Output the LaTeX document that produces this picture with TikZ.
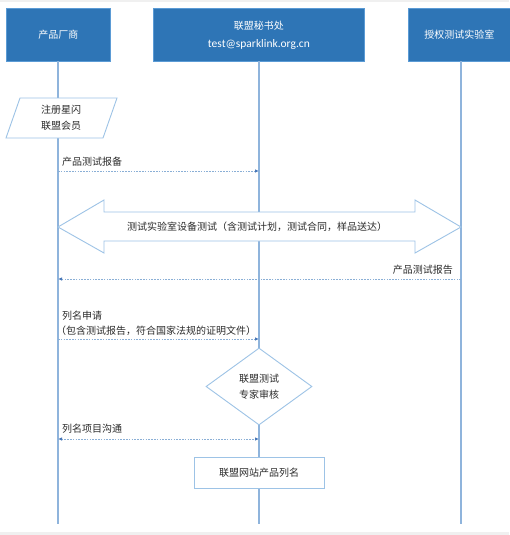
\documentclass[tikz,border=0pt]{standalone}
\usepackage{fontspec}
\setmainfont{Noto Sans CJK SC}
\newfontfamily\latinfont{Carlito}
\usetikzlibrary{shapes.geometric,arrows.meta}
\definecolor{hdrblue}{HTML}{2E75B6}
\definecolor{hdredge}{HTML}{5B9BD5}
\definecolor{lifeblue}{HTML}{8FB4DC}
\definecolor{lineblue}{HTML}{9DC3E6}
\definecolor{dotblue}{HTML}{8AAFD6}
\definecolor{arrblue}{HTML}{4A78B8}
\definecolor{txtgray}{HTML}{2B2B2B}
\definecolor{bandgray}{HTML}{F0F0F0}
\tikzset{
  hdr/.style={fill=hdrblue, draw=hdredge, line width=0.8pt, text=white, font=\fontsize{10}{14}\selectfont, align=center, inner sep=0pt, anchor=north west},
  life/.style={draw=lifeblue, line width=1.3pt},
  tipa/.tip={Latex[length=4pt,width=3.5pt,color=arrblue]},
  msg/.style={draw=dotblue, line width=0.9pt, dash pattern=on 1.6pt off 1.2pt, -tipa},
  msgtwo/.style={draw=dotblue, line width=0.9pt, dash pattern=on 1.6pt off 1.2pt, tipa-tipa},
  lbl/.style={text=txtgray, font=\fontsize{10}{14}\selectfont, inner sep=0pt},
  outline/.style={draw=lineblue, line width=0.9pt, fill=white}
}
\begin{document}
\begin{tikzpicture}[x=1pt,y=-1pt]
\useasboundingbox (0,0) rectangle (509,535);
\fill[white] (0,0) rectangle (509,535);
\fill[bandgray] (0,0) rectangle (509,2.5);
\fill[bandgray] (0,532) rectangle (509,535);

% headers
\node[hdr, minimum width=104pt, minimum height=53pt] (h1) at (6,8) {产品厂商};
\node[hdr, minimum width=211pt, minimum height=53pt] (h2) at (153,8) {联盟秘书处\\[4pt]{\latinfont\fontsize{11.5}{14}\selectfont test@sparklink.org.cn}};
\node[hdr, minimum width=102pt, minimum height=53pt] (h3) at (408,8) {授权测试实验室};

% lifelines
\coordinate (t1) at (58,61);
\coordinate (t2) at (259,61);
\coordinate (t3) at (461,61);
\coordinate (e1) at (58,524);
\coordinate (e2) at (259,524);
\coordinate (e3) at (461,524);
\draw[life] (t1) -- (e1);
\draw[life] (t2) -- (e2);
\draw[life] (t3) -- (e3);

% parallelogram
\draw[outline] (20,98) -- (117,98) -- (103,138) -- (6,138) -- cycle;
\node[lbl, align=center, font=\fontsize{10}{16}\selectfont] (reg) at (61,118) {注册星闪\\联盟会员};

% message 1
\coordinate (m1a) at (58,171);
\coordinate (m1b) at (259,171);
\draw[msg] (m1a) -- (m1b);
\node[lbl, anchor=west] (l1) at (62,162) {产品测试报备};

% double arrow
\draw[outline] (58,227) -- (104,200) -- (104,212) -- (415,212) -- (415,200) -- (461,227) -- (415,253) -- (415,241) -- (104,241) -- (104,253) -- cycle;
\node[lbl] (dbl) at (257,227) {测试实验室设备测试（含测试计划，测试合同，样品送达）};

% message 2
\coordinate (m2a) at (461,279);
\coordinate (m2b) at (58,279);
\draw[msg] (m2a) -- (m2b);
\node[lbl, anchor=east] (l2) at (453,270) {产品测试报告};

% message 3
\coordinate (m3a) at (58,339);
\coordinate (m3b) at (259,339);
\draw[msg] (m3a) -- (m3b);
\node[lbl, anchor=west] (l3a) at (62,316) {列名申请};
\node[lbl, anchor=west] (l3b) at (56,331) {（包含测试报告，符合国家法规的证明文件）};

% diamond
\node[diamond, outline, minimum width=106pt, minimum height=77pt, inner sep=0pt, aspect=1.38, align=center, text=txtgray, font=\fontsize{10}{16}\selectfont] (dia) at (259,386.5) {联盟测试\\专家审核};

% message 4
\coordinate (m4a) at (58,439);
\coordinate (m4b) at (259,439);
\draw[msgtwo] (m4a) -- (m4b);
\node[lbl, anchor=west] (l4) at (62,429) {列名项目沟通};

% final box
\node[outline, minimum width=130pt, minimum height=31pt, inner sep=0pt, text=txtgray, font=\fontsize{10}{14}\selectfont] (fin) at (259,472.5) {联盟网站产品列名};
\end{tikzpicture}
\end{document}
